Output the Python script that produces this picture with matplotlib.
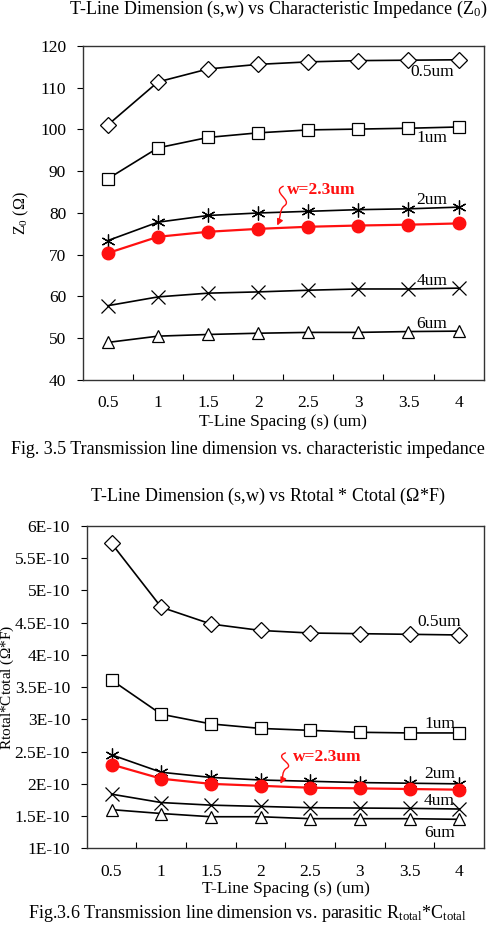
import numpy as np
import matplotlib
matplotlib.use("Agg")
import matplotlib.pyplot as plt
from matplotlib.path import Path
from matplotlib.patches import FancyArrowPatch

plt.rcParams["font.family"] = ["Liberation Serif", "DejaVu Serif"]
plt.rcParams["mathtext.fontset"] = "custom"
plt.rcParams["mathtext.rm"] = "Liberation Serif"
plt.rcParams["mathtext.it"] = "Liberation Serif:italic"

# ─────────────────────────────────────────
# Dati
# ─────────────────────────────────────────
spacing = ["0.5", "1", "1.5", "2", "2.5", "3", "3.5", "4"]

z0_05um = [101.1, 111.4, 114.5, 115.6, 116.2, 116.5, 116.6, 116.7]
z0_1um = [88.2, 95.6, 98.1, 99.2, 99.9, 100.1, 100.3, 100.6]
z0_2um = [73.4, 77.8, 79.4, 80.0, 80.4, 80.8, 81.0, 81.4]
z0_23um = [70.4, 74.3, 75.5, 76.2, 76.7, 77.0, 77.2, 77.5]
z0_4um = [57.8, 59.9, 60.8, 61.1, 61.5, 61.8, 61.8, 62.0]
z0_6um = [49.0, 50.5, 50.9, 51.2, 51.4, 51.4, 51.6, 51.7]

rc_05um = [5.73e-10, 4.74e-10, 4.48e-10, 4.38e-10, 4.34e-10, 4.33e-10, 4.32e-10, 4.31e-10]
rc_1um = [3.61e-10, 3.08e-10, 2.93e-10, 2.86e-10, 2.83e-10, 2.80e-10, 2.79e-10, 2.79e-10]
rc_2um = [2.45e-10, 2.18e-10, 2.10e-10, 2.06e-10, 2.04e-10, 2.02e-10, 2.01e-10, 2.00e-10]
rc_23um = [2.30e-10, 2.08e-10, 2.00e-10, 1.97e-10, 1.94e-10, 1.93e-10, 1.92e-10, 1.91e-10]
rc_4um = [1.84e-10, 1.71e-10, 1.67e-10, 1.65e-10, 1.63e-10, 1.625e-10, 1.62e-10, 1.61e-10]
rc_6um = [1.60e-10, 1.54e-10, 1.49e-10, 1.49e-10, 1.46e-10, 1.46e-10, 1.46e-10, 1.45e-10]

z0_ticks = [40, 50, 60, 70, 80, 90, 100, 110, 120]
rc_ticks = [1e-10, 1.5e-10, 2e-10, 2.5e-10, 3e-10, 3.5e-10, 4e-10, 4.5e-10, 5e-10, 5.5e-10, 6e-10]
rc_tick_labels = ["1E-10", "1.5E-10", "2E-10", "2.5E-10", "3E-10", "3.5E-10",
                  "4E-10", "4.5E-10", "5E-10", "5.5E-10", "6E-10"]

width_labels = ["0.5um", "1um", "2um", "4um", "6um"]

FS = 12.5      # tick / etichette
FS_T = 13      # titoli / didascalie
RED = "#FF1010"


# ─────────────────────────────────────────
# Helpers
# ─────────────────────────────────────────

def style_axes(ax, n):
    pos = np.arange(1, n + 1)
    ax.set_xlim(0.5, n + 0.5)
    ax.set_xticks(pos)
    ax.set_xticklabels(spacing, fontsize=FS)
    ax.set_xticks(np.arange(1.5, n, 1.0), minor=True)
    ax.tick_params(axis="x", which="major", length=0, pad=11)
    ax.tick_params(axis="x", which="minor", direction="in", length=4, width=0.8)
    ax.tick_params(axis="y", direction="out", length=4, width=0.8, labelsize=FS, pad=8)
    for s in ax.spines.values():
        s.set_color("#333333")
        s.set_linewidth(1.0)


def plot_series(ax, pos, series):
    mk = dict(color="black", lw=1.2, mfc="white", mec="black", mew=0.9)
    ax.plot(pos, series[0], marker="D", ms=8, **mk)
    ax.plot(pos, series[1], marker="s", ms=8.5, **mk)
    ax.plot(pos, series[2], marker=(6, 2, 0), ms=10, **mk)
    ax.plot(pos, series[4], marker="x", ms=10, **mk)
    ax.plot(pos, series[5], marker="^", ms=9, **mk)
    ax.plot(pos, series[3], color=RED, lw=1.6, marker="o", ms=9, mfc=RED, mec=RED, zorder=5)


def squiggle(ax, x0, y0, x1, y1):
    # freccia ondulata rossa (in coordinate dati)
    dx = x1 - x0
    dy = y1 - y0
    verts = [
        (x0, y0),
        (x0 - 0.25, y0 + 0.15 * dy), (x0 + 0.2, y0 + 0.35 * dy), (x0 + 0.02, y0 + 0.5 * dy),
        (x0 - 0.08, y0 + 0.6 * dy), (x0 + dx * 0.4, y0 + 0.8 * dy), (x1, y1),
    ]
    codes = [Path.MOVETO, Path.CURVE4, Path.CURVE4, Path.CURVE4,
             Path.CURVE4, Path.CURVE4, Path.CURVE4]
    arr = FancyArrowPatch(path=Path(verts, codes), arrowstyle="-|>", mutation_scale=9,
                          color=RED, lw=1.0, zorder=6)
    ax.add_patch(arr)


# ─────────────────────────────────────────
# Figura
# ─────────────────────────────────────────
fig = plt.figure(figsize=(4.93, 9.35), dpi=100)
pos = np.arange(1, len(spacing) + 1)

# --- grafico Z0 ---
ax1 = fig.add_axes([0.168, 0.5936, 0.813, 0.3572])
plot_series(ax1, pos, [z0_05um, z0_1um, z0_2um, z0_23um, z0_4um, z0_6um])
ax1.set_ylim(40, 120)
ax1.set_yticks(z0_ticks)
style_axes(ax1, len(spacing))
ax1.set_xlabel("T-Line Spacing (s) (um)", fontsize=FS, labelpad=2)
ax1.set_ylabel(r"Z$_\mathrm{0}$ ($\Omega$)", fontsize=FS - 1)
ax1.yaxis.set_label_coords(-0.13, 0.5)

for lab, yy in zip(width_labels, [113.8, 97.9, 83.1, 63.7, 53.4]):
    ax1.text(7.47, yy, lab, fontsize=FS, ha="center", va="center")
ax1.text(4.57, 85.5, "w=2.3um", color=RED, fontsize=FS, fontweight="bold",
         ha="left", va="center")
squiggle(ax1, 4.5, 86.4, 4.38, 77.0)

# --- grafico R*C ---
ax2 = fig.add_axes([0.176, 0.0927, 0.806, 0.3447])
plot_series(ax2, pos, [rc_05um, rc_1um, rc_2um, rc_23um, rc_4um, rc_6um])
ax2.set_ylim(1e-10, 6e-10)
ax2.set_yticks(rc_ticks)
ax2.set_yticklabels(rc_tick_labels)
style_axes(ax2, len(spacing))
ax2.set_xlabel("T-Line Spacing (s) (um)", fontsize=FS, labelpad=1)
ax2.set_ylabel(r"Rtotal*Ctotal ($\Omega$*F)", fontsize=FS - 1.5)
ax2.yaxis.set_label_coords(-0.178, 0.5)

for lab, yy in zip(width_labels, [4.51e-10, 2.93e-10, 2.16e-10, 1.73e-10, 1.23e-10]):
    ax2.text(7.6, yy, lab, fontsize=FS, ha="center", va="center")
ax2.text(4.65, 2.41e-10, "w=2.3um", color=RED, fontsize=FS, fontweight="bold",
         ha="left", va="center")
squiggle(ax2, 4.5, 2.48e-10, 4.4, 2.0e-10)

# --- titoli e didascalie ---
fig.text(278 / 493, 1 - 9 / 935, r"T-Line Dimension (s,w) vs Characteristic Impedance (Z$_\mathrm{0}$)",
         fontsize=FS_T, ha="center", va="center")
fig.text(248 / 493, 1 - 449 / 935, "Fig. 3.5 Transmission line dimension vs. characteristic impedance",
         fontsize=FS_T, ha="center", va="center")
fig.text(268 / 493, 1 - 496 / 935, r"T-Line Dimension (s,w) vs Rtotal * Ctotal ($\Omega$*F)",
         fontsize=FS_T, ha="center", va="center")
fig.text(247 / 493, 1 - 913 / 935,
         r"Fig.3.6 Transmission line dimension vs. parasitic R$_\mathrm{total}$*C$_\mathrm{total}$",
         fontsize=FS_T, ha="center", va="center")

fig.savefig("out.png", dpi=100)
